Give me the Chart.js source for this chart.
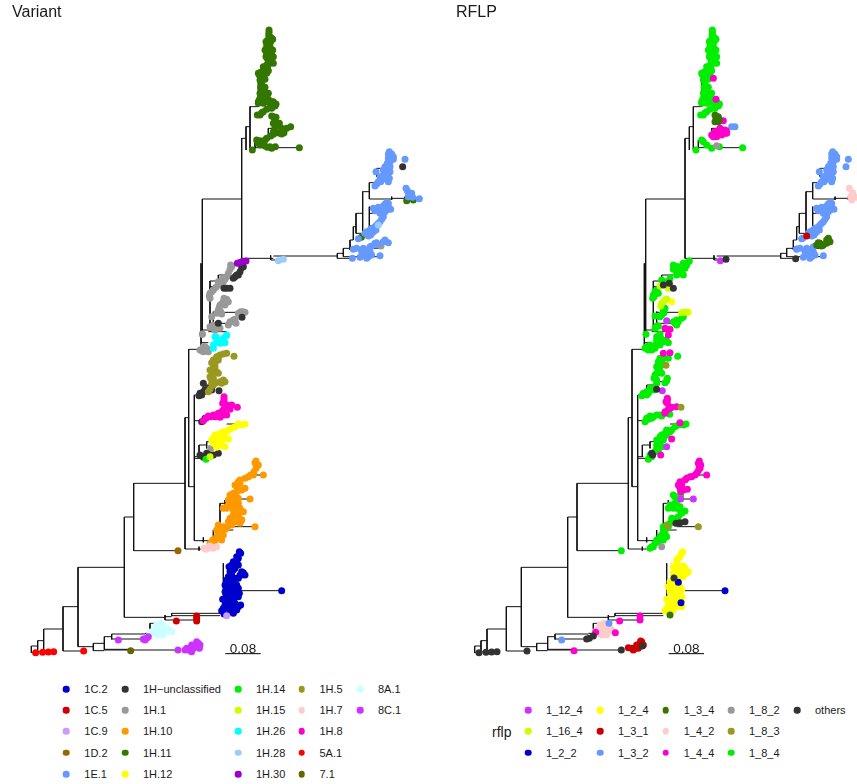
<!DOCTYPE html>
<html><head><meta charset="utf-8">
<script src="https://cdn.jsdelivr.net/npm/chart.js@4"></script>
<style>
html,body{margin:0;padding:0;background:#fff;overflow:hidden}
#wrap{position:relative;width:857px;height:784px;font-family:"Liberation Sans",sans-serif;color:#1a1a1a}
canvas{position:absolute;top:0}
.k{position:absolute;width:6.6px;height:6.6px;border-radius:50%;transform:translate(-50%,-50%)}
.t{position:absolute;font-size:11px;line-height:14px;transform:translateY(-50%);white-space:nowrap}
</style></head><body><div id="wrap">
<canvas id="cV" width="430" height="670" style="left:0"></canvas>
<canvas id="cR" width="427" height="670" style="left:430px"></canvas>
</div>
<script>
// Tree structure: horizontal branches (row, from, to) and vertical branches (divergence, from, to)
const treeH=[1938,94,113, 1958,94,107, 1922,113,131, 1955,113,161, 1887,131,189, 1953,189,251, 1820,189,234, 1940,234,280, 1702,234,373, 1551,373,401, 1852,373,495, 1450,401,555, 1652,401,534, 1647,555,610, 1253,555,566, 1460,566,583, 1622,583,640, 1048,566,603, 597,607,725, 415,725,738, 380,738,750, 320,750,775, 450,750,765, 443,765,898, 210,775,790, 385,805,870, 405,805,830, 775,725,820, 780,812,850, 768,820,1012, 775,1012,1060, 760,1012,1030, 745,1030,1050, 770,1030,1140, 745,1050,1143, 720,1050,1060, 680,1060,1068, 640,1068,1088, 700,1068,1084, 575,1088,1108, 548,1108,1130, 597,1108,1175, 505,1130,1160, 595,1175,1258, 640,1108,1140, 843,630,655, 825,655,690, 860,630,690, 937,640,720, 970,640,700, 990,605,640, 1028,603,625, 995,625,680, 1185,583,600, 1155,610,640, 1145,640,670, 1262,583,610, 1370,583,600, 1335,597,620, 1375,583,610, 1325,620,640, 1272,680,730, 1580,700,765, 1497,720,750, 1425,740,790, 1510,660,675, 1590,660,700, 1840,515,660, 1847,515,660, 1850,495,515, 1860,495,590, 1772,720,845, 1930,280,313, 1952,280,313, 1910,313,335, 1948,313,392, 1950,313,534, 1902,335,435, 1917,335,430, 1900,435,450, 1870,450,480];
const treeV=[94,1938,1958, 113,1922,1958, 131,1887,1955, 189,1820,1953, 234,1702,1940, 373,1551,1852, 401,1450,1652, 555,1253,1647, 566,1048,1460, 583,1185,1622, 607,597,1000, 603,790,1048, 725,415,775, 738,380,450, 750,320,450, 775,210,320, 765,420,445, 805,385,405, 630,843,990, 655,825,843, 640,935,990, 597,1335,1370, 620,1325,1345, 610,1155,1180, 640,1145,1165, 610,1612,1627, 640,1590,1622, 660,1510,1590, 675,1500,1520, 597,1640,1652, 495,1845,1860, 515,1840,1848, 670,1690,1840, 280,1930,1952, 313,1910,1950, 335,1902,1918, 450,1870,1900, 812,766,780, 1012,760,775, 1030,745,770, 1050,720,750, 1060,680,720, 1068,640,700, 1088,575,700, 1108,548,597, 1130,505,530, 1108,620,685, 1175,590,600, 1215,590,600];
const scaleBar=[676,782,1961];
const scaleLabel="0.08";

// Tip positions shared by both panels (divergence,row pairs)
const upperGreen=[807,90, 806,105, 815,115, 803,130, 805,145, 812,158, 806,170, 815,178, 808,190, 803,200, 795,210, 805,212, 790,222, 782,230, 795,238, 785,252, 790,268, 797,282, 782,298, 805,298, 790,310, 812,315, 827,313, 800,328, 785,338, 772,345, 810,125, 800,160, 790,200, 780,225, 800,290, 815,305, 807,97, 810,110, 803,120, 812,125, 800,138, 810,140, 800,152, 815,165, 803,178, 810,185, 800,195, 790,212, 800,220, 785,240, 778,225, 790,232, 782,262, 795,262, 785,278, 795,275, 778,300, 790,295, 800,305, 785,305, 775,305, 815,325, 790,335, 825,318, 812,322, 820,170, 818,150, 820,190, 798,170, 795,150, 798,125, 818,118, 785,215, 780,240, 775,220, 780,280, 805,280, 780,295, 775,310, 820,305, 828,312, 780,345];
const blueUpper=[1168,455, 1175,462, 1165,475, 1180,478, 1215,478, 1162,490, 1170,500, 1158,510, 1165,520, 1150,525, 1128,515, 1160,535, 1145,540, 1135,545, 1125,558, 1165,545, 1155,500, 1172,470, 1165,462, 1170,485, 1160,500, 1165,505, 1155,518, 1150,535, 1140,530, 1130,552, 1152,510, 1175,475, 1142,545, 1180,470, 1150,510, 1170,515, 1145,530, 1168,535];
const blueLower=[1160,608, 1150,618, 1172,628, 1120,625, 1135,622, 1155,635, 1150,650, 1140,665, 1130,675, 1115,685, 1100,695, 1120,695, 1105,708, 1075,716, 1155,612, 1165,620, 1145,625, 1125,632, 1160,630, 1150,640, 1145,658, 1135,670, 1125,680, 1110,690, 1095,700, 1115,700, 1128,690, 1140,640, 1165,610, 1112,705];
const blueBottom=[1090,745, 1060,748, 1090,758, 1110,755, 1105,770, 1080,772, 1140,767, 1125,730, 1100,750, 1095,765, 1115,765, 1085,755, 1110,740, 1100,775, 1070,745];

// Variant panel
const variantLabels=["1C.2","1C.5","1C.9","1D.2","1E.1","1H\u2212unclassified","1H.1","1H.10","1H.11","1H.12","1H.14","1H.15","1H.26","1H.28","1H.30","1H.5","1H.7","1H.8","5A.1","7.1","8A.1","8C.1"];
const variantColors=["#0000CC","#CC0000","#CC99FF","#996600","#6699FF","#333333","#999999","#FF9900","#337700","#FFFF00","#00EE00","#CCFF00","#00FFFF","#99CCFF","#9900CC","#999922","#FFCCCC","#FF00CC","#FF0000","#666600","#CCFFFF","#CC33FF"];
const variantLayers=[3,1,1,1,3,4,5,3,3,2,1,0,2,0,0,3,1,2,1,1,3,1];
const v1C2=[718,1655, 710,1670, 722,1660, 700,1685, 687,1700, 715,1695, 730,1718, 700,1710, 720,1725, 685,1730, 710,1735, 680,1750, 695,1750, 700,1760, 715,1765, 690,1780, 710,1785, 668,1798, 695,1800, 715,1820, 675,1815, 665,1832, 690,1835, 700,1840, 845,1772, 725,1725, 680,1770, 705,1810, 685,1800, 700,1825, 715,1675, 712,1678, 695,1695, 705,1705, 690,1715, 725,1715, 735,1725, 715,1735, 695,1725, 680,1740, 700,1740, 690,1745, 710,1755, 675,1755, 685,1760, 675,1775, 695,1775, 705,1775, 715,1790, 700,1795, 680,1790, 680,1805, 690,1815, 705,1825, 670,1825, 685,1825, 710,1830, 672,1842, 718,1780, 722,1815];
const v1C5=[590,1848, 590,1863, 590,1855, 529,1863];
const v1C9=[680,1847];
const v1D2=[534,1652];
const v1E1=[...blueUpper, ...blueLower, ...blueBottom, 1218,565, 1225,578, 1235,580, 1225,590, 1238,592, 1258,596, 1222,572, 1230,585, 1155,720, 1165,728, 1130,728, 1115,738, 1057,775, 1130,735, 1150,725];
const v1Hu=[1208,500, 725,803, 715,825, 705,830, 690,865, 672,865, 726,952, 655,970, 615,1170, 600,1180, 597,1187, 625,1165, 657,1172, 605,1265, 615,1255, 655,1360, 620,1360, 600,1365, 640,1365, 610,1150, 720,815, 710,825, 700,835, 730,800, 680,865, 610,1175, 605,1185, 620,1172, 635,1170, 610,1372, 630,1365];
const v1H1=[1143,738, 692,795, 690,808, 680,830, 670,845, 655,855, 640,870, 630,880, 630,895, 680,898, 670,905, 660,915, 655,930, 665,942, 635,950, 722,935, 735,937, 700,960, 690,965, 708,970, 640,975, 630,980, 660,985, 645,990, 607,1003, 607,1002, 610,1040, 620,1045, 605,1052, 632,1345, 695,800, 685,820, 675,838, 662,850, 648,862, 635,875, 628,888, 672,895, 685,905, 665,912, 675,915, 658,922, 662,935, 650,940, 715,940, 728,935, 695,965, 705,958, 685,975, 650,975, 640,985, 652,982, 615,1040, 600,1050, 625,1055, 610,1055, 668,835, 655,845];
const v1H10=[768,1383, 770,1398, 762,1415, 745,1430, 790,1425, 715,1445, 735,1465, 710,1460, 690,1485, 750,1497, 705,1500, 680,1525, 705,1520, 725,1535, 700,1545, 725,1560, 695,1575, 670,1580, 655,1575, 675,1588, 660,1600, 765,1580, 638,1620, 665,1620, 700,1480, 720,1470, 710,1530, 765,1388, 775,1395, 768,1405, 760,1425, 752,1425, 735,1435, 720,1440, 705,1455, 720,1450, 725,1470, 710,1475, 695,1490, 685,1500, 705,1490, 715,1495, 695,1505, 715,1510, 690,1515, 700,1530, 680,1520, 670,1525, 720,1525, 730,1535, 710,1545, 690,1555, 715,1550, 720,1570, 705,1565, 690,1570, 680,1585, 665,1590, 650,1590, 655,1600, 670,1605, 650,1610, 660,1615, 645,1622, 630,1630, 700,1560, 685,1565, 710,1520, 725,1560, 700,1520];
const v1H11=[...upperGreen, 820,350, 825,362, 838,370, 825,382, 845,385, 872,380, 860,385, 820,395, 840,400, 852,398, 812,408, 800,415, 780,422, 790,432, 802,442, 826,440, 815,445, 898,443, 757,450, 775,430, 1084,712, 1220,602, 1240,600, 815,348, 828,352, 820,370, 832,378, 850,395, 830,398, 820,403, 795,420, 770,420, 785,425, 795,438, 780,435, 810,440, 845,402];
const v1H12=[735,1272, 715,1272, 695,1285, 670,1295, 645,1305, 635,1320, 650,1325, 665,1335, 650,1342, 685,1317, 675,1308, 655,1315, 725,1275, 705,1280, 685,1290, 680,1295, 660,1300, 650,1310, 640,1315, 660,1325, 640,1330, 670,1315, 655,1335, 665,1320, 675,1340];
const v1H14=[618,1378];
const v1H15=[630,1370];
const v1H26=[680,1005, 670,1015, 645,1010, 650,1025, 640,1045, 675,1028, 660,1030, 648,1010, 678,1008, 655,1020, 665,1028, 640,1035, 670,1020];
const v1H28=[835,782, 850,778, 1135,675];
const v1H30=[712,790, 725,785, 738,783, 718,788];
const v1H5=[680,1060, 660,1065, 640,1080, 655,1080, 640,1095, 650,1115, 635,1125, 632,1135, 670,1140, 660,1145, 640,1155, 630,1168, 702,1069, 670,1062, 650,1070, 635,1088, 645,1100, 630,1110, 640,1118, 655,1120, 630,1130, 640,1135, 665,1150, 675,1145, 635,1150, 648,1148, 625,1175, 645,1090];
const v1H7=[618,1648, 630,1638, 650,1640, 612,1645, 640,1645, 625,1645];
const v1H8=[672,1190, 672,1205, 680,1215, 695,1215, 712,1222, 670,1230, 655,1240, 640,1245, 625,1248, 680,1245, 660,1252, 610,1262, 672,1198, 668,1210, 675,1222, 685,1218, 690,1228, 665,1235, 650,1245, 632,1250, 618,1255, 645,1250, 670,1245];
const v5A1=[107,1958, 128,1957, 145,1956, 161,1955, 251,1953];
const v71=[392,1952];
const v8A1=[483,1870, 465,1885, 500,1885, 515,1895, 480,1900, 455,1895, 495,1895, 470,1875, 480,1880, 490,1878, 475,1890, 490,1888, 505,1890, 465,1900, 475,1905, 490,1905, 450,1900];
const v8C1=[355,1920, 430,1917, 445,1910, 534,1950, 560,1945, 575,1935, 590,1925, 600,1935, 570,1950, 440,1915, 435,1920, 565,1950, 580,1945, 585,1935, 595,1930, 598,1945, 575,1955, 555,1950];
const variantTips=[v1C2,v1C5,v1C9,v1D2,v1E1,v1Hu,v1H1,v1H10,v1H11,v1H12,v1H14,v1H15,v1H26,v1H28,v1H30,v1H5,v1H7,v1H8,v5A1,v71,v8A1,v8C1];

// RFLP panel
const rflpLabels=["1_12_4","1_16_4","1_2_2","1_2_4","1_3_1","1_3_2","1_3_4","1_4_2","1_4_4","1_8_2","1_8_3","1_8_4","others"];
const rflpColors=["#CC33FF","#CCFF00","#0000CC","#FFFF00","#CC0000","#6699FF","#337700","#FFCCCC","#FF00CC","#999999","#999922","#00EE00","#333333"];
const rflpLayers=[1,3,1,4,3,3,1,3,2,1,1,3,0];
const r1124=[831,782, 670,962, 670,1340, 657,1172, 750,1497, 712,1497];
const r1164=[675,865, 650,858, 670,897, 660,905, 652,918, 730,937, 715,938, 665,900, 655,910, 722,936];
const r122=[705,1747, 845,1772, 713,1808];
const r124=[685,905, 735,937, 718,1655, 710,1670, 690,1700, 720,1698, 730,1720, 705,1715, 685,1760, 710,1760, 715,1790, 690,1780, 670,1798, 695,1810, 715,1820, 675,1815, 665,1832, 690,1830, 700,1680, 705,1735, 700,1775, 680,1745, 715,1705, 690,1720, 705,1800, 680,1835, 715,1660, 705,1675, 700,1690, 695,1705, 710,1700, 725,1705, 735,1715, 720,1715, 700,1725, 720,1730, 690,1755, 675,1760, 700,1755, 715,1770, 680,1775, 690,1790, 710,1785, 715,1800, 695,1800, 680,1810, 700,1820, 685,1825, 670,1825, 710,1815, 680,1840, 700,1795];
const r131=[565,1945, 580,1935, 592,1923, 600,1935, 570,1950, 555,1943, 585,1945, 1090,708, 590,1930, 575,1945, 595,1925];
const r132=[...blueUpper, ...blueLower, ...blueBottom, 1208,500, 865,380, 875,380, 355,1920, 497,1870, 1060,747, 1078,715];
const r134=[820,350, 825,365, 818,355, 1150,720, 1120,735, 1160,725, 1140,735, 1130,730, 680,1845, 815,345, 825,350, 815,365, 828,360, 1150,730, 1135,738, 1125,728, 1155,715];
const r142=[1218,565, 1228,578, 1222,590, 1225,600, 1238,592, 482,1870, 465,1885, 500,1885, 480,1900, 455,1895, 495,1895, 470,1875, 480,1880, 490,1878, 475,1890, 490,1888, 505,1890, 465,1900, 475,1905, 490,1905];
const r144=[840,362, 810,410, 825,400, 840,395, 850,400, 830,385, 805,405, 845,390, 810,235, 818,298, 665,985, 680,988, 675,1005, 680,1058, 660,1060, 672,1195, 672,1210, 685,1222, 665,1235, 700,1220, 685,1317, 710,1268, 652,1365, 768,1383, 768,1398, 760,1420, 790,1425, 730,1435, 710,1445, 710,1465, 732,1468, 745,1430, 590,1848, 590,1860, 529,1863, 457,1897, 516,1898, 392,1952, 765,1390, 772,1395, 770,1405, 765,1412, 755,1425, 740,1430, 725,1440, 715,1455, 705,1455, 720,1470, 712,1475, 672,1200, 668,1205, 680,1225, 675,1228, 665,1240, 815,395, 830,395, 835,405, 820,410, 845,400, 812,400, 850,395, 828,390];
const r182=[655,1640, 820,437];
const r183=[668,1096, 765,1580, 672,1578, 713,1222];
const r184=[...upperGreen, 780,425, 790,435, 805,445, 828,440, 898,443, 758,450, 775,420, 738,783, 720,790, 690,795, 725,805, 700,815, 720,825, 680,835, 655,840, 640,870, 630,885, 628,895, 645,880, 700,800, 665,925, 655,945, 635,948, 720,950, 700,960, 695,970, 640,978, 608,1003, 650,1010, 650,1002, 640,1020, 675,1028, 610,1040, 625,1050, 640,1030, 703,1069, 650,1075, 675,1075, 645,1095, 650,1115, 635,1125, 640,1140, 670,1142, 620,1165, 600,1180, 595,1187, 610,1185, 640,1100, 655,1248, 679,1243, 620,1248, 605,1265, 640,1245, 610,1255, 728,1272, 705,1275, 680,1295, 655,1305, 640,1320, 650,1335, 645,1350, 620,1365, 615,1378, 670,1290, 660,1315, 690,1485, 712,1485, 695,1510, 675,1525, 700,1525, 725,1533, 705,1550, 680,1570, 660,1580, 665,1600, 640,1620, 620,1645, 660,1620, 630,1640, 650,1610, 534,1652, 730,795, 735,785, 715,800, 705,800, 690,808, 705,810, 715,820, 700,825, 670,845, 635,875, 632,890, 640,880, 660,930, 662,938, 650,950, 715,955, 705,965, 690,965, 700,975, 635,985, 645,978, 640,1010, 652,1015, 668,1020, 660,1025, 650,1035, 630,1040, 615,1050, 620,1035, 605,1045, 635,1045, 655,1085, 660,1075, 645,1105, 640,1120, 650,1100, 655,1120, 632,1135, 672,1135, 665,1148, 640,1150, 625,1165, 610,1175, 615,1180, 630,1170, 645,1085, 630,1250, 615,1258, 650,1245, 625,1255, 720,1275, 695,1280, 685,1290, 665,1300, 650,1310, 660,1320, 670,1305, 645,1325, 655,1340, 640,1335, 635,1355, 625,1370, 640,1345, 650,1320, 695,1490, 700,1505, 680,1515, 690,1525, 710,1530, 715,1540, 700,1555, 690,1565, 670,1575, 660,1590, 655,1605, 655,1615, 645,1625, 635,1630, 625,1640, 670,1610, 650,1620, 665,1590, 675,1580, 685,1555, 710,1520];
const rOthers=[660,855, 678,850, 690,865, 848,778, 1057,776, 640,1168, 628,1365, 625,1360, 698,1570, 725,1565, 710,1568, 692,1734, 438,1915, 450,1908, 430,1917, 534,1950, 597,1938, 107,1958, 128,1957, 145,1956, 161,1955, 251,1953];
const rflpTips=[r1124,r1164,r122,r124,r131,r132,r134,r142,r144,r182,r183,r184,rOthers];

const pairs=a=>{const o=[];for(let i=0;i<a.length;i+=2)o.push({x:a[i],y:a[i+1]});return o;};
function treeLines(){
  const o=[];
  for(let i=0;i<treeH.length;i+=3){o.push({x:treeH[i+1],y:treeH[i]},{x:treeH[i+2],y:treeH[i]},{x:null,y:null});}
  for(let i=0;i<treeV.length;i+=3){o.push({x:treeV[i],y:treeV[i+1]},{x:treeV[i],y:treeV[i+2]},{x:null,y:null});}
  return o;
}
const scaleText={id:'scaleText',afterDatasetsDraw(c){
  const g=c.ctx,x=c.scales.x.getPixelForValue((scaleBar[0]+scaleBar[1])/2),y=c.scales.y.getPixelForValue(scaleBar[2]);
  g.save();g.font='13.5px "Liberation Sans"';g.fillStyle='#1a1a1a';g.textAlign='center';g.textBaseline='alphabetic';
  g.fillText(scaleLabel,x,y-0.5);g.restore();
}};
function makeChart(id,title,labels,colors,tips,layers,xMin,xMax,padLeft){
  const ds=tips.map((t,i)=>({type:'scatter',label:labels[i],data:pairs(t),backgroundColor:colors[i],borderWidth:0,pointRadius:3.5,pointHoverRadius:3.5,order:layers[i],clip:false}));
  ds.push({type:'scatter',label:'scale',data:[{x:scaleBar[0],y:scaleBar[2]},{x:scaleBar[1],y:scaleBar[2]}],showLine:true,pointRadius:0,borderColor:'#000',borderWidth:1,order:20});
  ds.push({type:'scatter',label:'tree',data:treeLines(),showLine:true,spanGaps:false,pointRadius:0,borderColor:'#111',borderWidth:1,order:30});
  return new Chart(document.getElementById(id),{type:'scatter',data:{datasets:ds},plugins:[scaleText],
    options:{responsive:false,animation:false,events:[],layout:{autoPadding:false,padding:{left:padLeft,right:0,top:0,bottom:0}},
      plugins:{legend:{display:false},tooltip:{enabled:false},
        title:{display:true,text:title,align:'start',color:'#1a1a1a',font:{family:'"Liberation Sans"',size:16,weight:'normal',lineHeight:1.2},padding:{top:3,bottom:0}}},
      scales:{x:{type:'linear',display:false,bounds:'data',min:xMin,max:xMax},y:{type:'linear',display:false,bounds:'data',reverse:true,min:66.6,max:2010}}}});
}
makeChart('cV','Variant',variantLabels,variantColors,variantTips,variantLayers,36,1290,12);
makeChart('cR','RFLP',rflpLabels,rflpColors,rflpTips,rflpLayers,38,1241,26);

// Legends
const wrap=document.getElementById('wrap');
function key(x,y,label,color){
  const d=document.createElement('div');d.className='k';d.style.left=x+'px';d.style.top=y+'px';d.style.background=color;wrap.appendChild(d);
  const t=document.createElement('div');t.className='t';t.style.left=(x+18)+'px';t.style.top=y+'px';t.textContent=label;wrap.appendChild(t);
}
const vCols=[66.3,125,238,301.5,360],vRows=[689,710.3,731.3,752.7,774];
variantLabels.forEach((l,i)=>key(vCols[Math.floor(i/5)],vRows[i%5],l,variantColors[i]));
const rCols=[528,600,665.7,731,797],rRows=[710,731.3,752.7];
rflpLabels.forEach((l,i)=>key(rCols[Math.floor(i/3)],rRows[i%3],l,rflpColors[i]));
const rl=document.createElement('div');rl.className='t';rl.style.left='492px';rl.style.top='731.5px';rl.style.fontSize='14px';rl.textContent='rflp';wrap.appendChild(rl);
</script></body></html>
